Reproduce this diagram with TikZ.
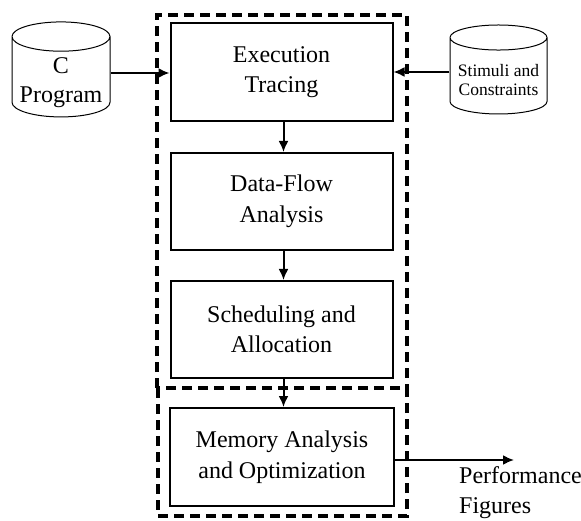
\documentclass[tikz,border=0pt]{standalone}
\usepackage{fontspec}
\setmainfont{Liberation Serif}
\usepackage{tikz}
\usetikzlibrary{arrows.meta}
\usetikzlibrary{shapes.geometric}

\tikzset{
  stage/.style={draw,line width=2pt,minimum width=222pt,inner sep=0pt,align=center,
    font=\fontsize{24}{30.5}\selectfont},
  store/.style={draw,line width=1pt,cylinder,shape border rotate=90,aspect=0.85,inner sep=0pt},
  flow/.style={line width=2pt,-{Latex[length=11pt,width=10pt]}},
  frame/.style={line width=3.2pt,dash pattern=on 10pt off 6pt}
}

\begin{document}
\begin{tikzpicture}[x=1pt,y=-1pt]
\useasboundingbox (0,0) rectangle (581,521);
% processing stages
\node[stage,minimum height=98pt] (exec) at (281.5,72) {Execution\\Tracing};
\node[stage,minimum height=97pt] (dfa) at (281.5,201.5) {Data-Flow\\Analysis};
\node[stage,minimum height=97pt] (sched) at (281.5,329.5) {Scheduling and\\Allocation};
\node[stage,minimum height=98pt,minimum width=224pt] (mem) at (282,457) {Memory Analysis\\and Optimization};
% inputs (cylinder drawn empty, label set a bit lower)
\node[store,minimum width=98pt,minimum height=95pt] (cprog) at (61,77) {\phantom{Program}};
\node[align=center,font=\fontsize{24}{29}\selectfont] (cprogtxt) at ([yshift=-6pt]cprog.center) {C\\Program};
\node[store,minimum width=97pt,minimum height=89pt] (stim) at (498.5,76) {\phantom{Stimuli}};
\node[align=center,font=\fontsize{17.5}{19}\selectfont] (stimtxt) at ([yshift=-4pt]stim.center) {Stimuli and\\Constraints};
% output
\coordinate (out) at (514,460);
\node[anchor=north west,inner sep=0pt,align=left,font=\fontsize{24}{30}\selectfont] (perf) at (459,466) {Performance\\Figures};
% dashed groups
\draw[frame] (157,388) -- (157,15) -- (407,15) -- (407,388);
\draw[frame] (158,388) rectangle (407,516);
% connections
\draw[flow] (cprog.east |- 0,73) -- (exec.west |- 0,73);
\draw[flow] (stim.west |- 0,72) -- (exec.east |- 0,72);
\draw[flow] ([xshift=2pt]exec.south) -- ([xshift=2pt]dfa.north);
\draw[flow] ([xshift=2pt]dfa.south) -- ([xshift=2pt]sched.north);
\draw[flow] ([xshift=2pt]sched.south) -- ([xshift=1.5pt]mem.north);
\draw[flow] (mem.east |- out) -- (out);
\end{tikzpicture}
\end{document}
